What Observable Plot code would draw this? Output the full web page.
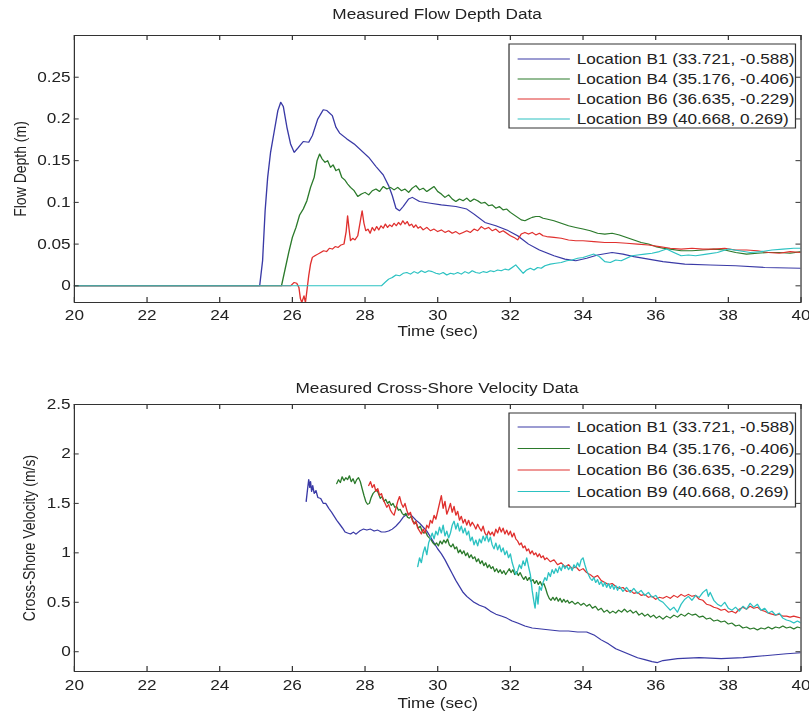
<!DOCTYPE html>
<html><head><meta charset="utf-8">
<script src="https://cdn.jsdelivr.net/npm/d3@7"></script>
<script src="https://cdn.jsdelivr.net/npm/@observablehq/plot@0.6"></script>
<style>
html,body{margin:0;padding:0;background:#fff;}
#wrap{position:relative;width:658px;height:719px;transform:scaleX(1.2295);transform-origin:0 0;font-family:"Liberation Sans",Arial,sans-serif;color:#222;overflow:visible;}
.ttl{position:absolute;left:60px;width:591px;text-align:center;font-size:14px;line-height:18px;}
.pl{position:absolute;left:0;}
#leg{position:absolute;left:0;top:0;}
</style>
</head><body>
<div id="wrap">
  <div class="ttl" style="top:5px">Measured Flow Depth Data</div>
  <div class="ttl" style="top:379px">Measured Cross-Shore Velocity Data</div>
  <div class="pl" id="p1" style="top:0px"></div>
  <div class="pl" id="p2" style="top:360px"></div>
</div>
<script>
// ---------- data ----------
const seriesNames = ["Location B1 (33.721, -0.588)","Location B4 (35.176, -0.406)","Location B6 (36.635, -0.229)","Location B9 (40.668, 0.269)"];
const seriesColors = ["#3a3aa6","#2b7a2b","#e0302e","#2cc2c2"];
const timeTicks = [20,22,24,26,28,30,32,34,36,38,40];
const depthTicks = [0,0.05,0.1,0.15,0.2,0.25];
const velTicks = [0,0.5,1,1.5,2,2.5];
const xLabel = "Time (sec)";

const depthB1 = [[20,0],[25.1,0],[25.18,0.03],[25.25,0.09],[25.32,0.13],[25.4,0.16],[25.5,0.185],[25.6,0.21],[25.68,0.22],[25.75,0.215],[25.85,0.19],[25.95,0.17],[26.05,0.16],[26.15,0.165],[26.3,0.173],[26.45,0.172],[26.55,0.18],[26.7,0.2],[26.85,0.211],[26.95,0.21],[27.1,0.204],[27.2,0.19],[27.3,0.183],[27.5,0.176],[27.7,0.17],[27.9,0.162],[28.1,0.154],[28.3,0.143],[28.5,0.133],[28.65,0.12],[28.75,0.108],[28.85,0.093],[28.95,0.09],[29.05,0.095],[29.2,0.104],[29.3,0.106],[29.5,0.101],[29.8,0.099],[30.1,0.097],[30.5,0.095],[30.8,0.092],[31.0,0.086],[31.3,0.076],[31.6,0.072],[31.9,0.067],[32.2,0.06],[32.5,0.05],[32.8,0.043],[33.2,0.036],[33.5,0.032],[33.8,0.03],[34.1,0.033],[34.4,0.037],[34.8,0.04],[35.1,0.038],[35.4,0.035],[35.8,0.032],[36.2,0.029],[36.8,0.026],[37.5,0.025],[38.2,0.024],[39.0,0.022],[40,0.021]];
const depthB4 = [[20,0],[25.7,0],[25.8,0.02],[25.9,0.04],[26.0,0.058],[26.1,0.07],[26.2,0.085],[26.3,0.092],[26.4,0.102],[26.5,0.118],[26.6,0.13],[26.68,0.15],[26.75,0.158],[26.82,0.152],[26.9,0.148],[26.97,0.15],[27.05,0.142],[27.12,0.145],[27.2,0.138],[27.28,0.14],[27.36,0.13],[27.44,0.127],[27.52,0.122],[27.6,0.118],[27.7,0.114],[27.8,0.107],[27.9,0.11],[28.0,0.112],[28.1,0.109],[28.2,0.114],[28.3,0.116],[28.4,0.113],[28.5,0.119],[28.6,0.116],[28.7,0.118],[28.8,0.115],[28.9,0.118],[29.0,0.114],[29.1,0.116],[29.2,0.112],[29.3,0.117],[29.4,0.12],[29.5,0.115],[29.6,0.117],[29.7,0.113],[29.8,0.116],[29.9,0.119],[30.0,0.113],[30.1,0.11],[30.2,0.106],[30.3,0.109],[30.4,0.104],[30.5,0.101],[30.6,0.104],[30.7,0.102],[30.8,0.105],[30.9,0.101],[31.0,0.104],[31.1,0.102],[31.2,0.099],[31.3,0.1],[31.4,0.096],[31.5,0.097],[31.6,0.093],[31.7,0.095],[31.8,0.091],[31.9,0.092],[32.0,0.088],[32.1,0.085],[32.2,0.082],[32.3,0.079],[32.4,0.078],[32.5,0.08],[32.6,0.082],[32.7,0.083],[32.8,0.083],[32.9,0.081],[33.0,0.08],[33.2,0.078],[33.4,0.075],[33.6,0.072],[33.8,0.07],[34.0,0.068],[34.2,0.066],[34.4,0.063],[34.6,0.062],[34.8,0.063],[35.0,0.061],[35.2,0.058],[35.4,0.055],[35.6,0.052],[35.8,0.05],[36.0,0.047],[36.2,0.045],[36.4,0.044],[36.7,0.042],[37.0,0.042],[37.3,0.043],[37.6,0.044],[37.9,0.043],[38.2,0.04],[38.5,0.038],[38.8,0.039],[39.1,0.04],[39.4,0.04],[39.7,0.039],[40,0.041]];
const depthB6 = [[20,0],[25.95,0],[26.05,0.004],[26.12,0.003],[26.18,-0.002],[26.22,-0.015],[26.26,-0.02],[26.32,-0.012],[26.36,-0.02],[26.4,-0.006],[26.45,0.012],[26.5,0.026],[26.55,0.034],[26.62,0.036],[26.7,0.038],[26.78,0.04],[26.86,0.042],[26.94,0.041],[27.02,0.045],[27.1,0.044],[27.18,0.047],[27.26,0.046],[27.34,0.049],[27.42,0.05],[27.48,0.065],[27.52,0.084],[27.56,0.068],[27.6,0.054],[27.66,0.057],[27.72,0.055],[27.8,0.06],[27.86,0.075],[27.92,0.09],[27.97,0.075],[28.02,0.066],[28.08,0.068],[28.14,0.063],[28.2,0.07],[28.26,0.066],[28.32,0.071],[28.38,0.067],[28.44,0.072],[28.5,0.069],[28.56,0.074],[28.62,0.07],[28.68,0.073],[28.74,0.071],[28.8,0.075],[28.86,0.072],[28.92,0.076],[28.98,0.073],[29.04,0.078],[29.1,0.074],[29.16,0.077],[29.22,0.072],[29.28,0.074],[29.34,0.07],[29.4,0.073],[29.46,0.069],[29.52,0.071],[29.6,0.067],[29.7,0.07],[29.8,0.066],[29.9,0.068],[30.0,0.065],[30.1,0.067],[30.2,0.064],[30.3,0.066],[30.4,0.063],[30.5,0.065],[30.6,0.062],[30.7,0.064],[30.8,0.066],[30.9,0.064],[31.0,0.068],[31.1,0.066],[31.2,0.071],[31.3,0.068],[31.4,0.07],[31.5,0.066],[31.6,0.068],[31.7,0.064],[31.8,0.066],[31.9,0.063],[32.0,0.06],[32.1,0.058],[32.2,0.055],[32.3,0.062],[32.4,0.064],[32.5,0.062],[32.6,0.064],[32.7,0.061],[32.8,0.063],[32.9,0.06],[33.0,0.059],[33.2,0.058],[33.4,0.057],[33.6,0.055],[33.8,0.054],[34.0,0.054],[34.3,0.053],[34.6,0.052],[34.9,0.052],[35.2,0.051],[35.5,0.05],[35.8,0.049],[36.1,0.047],[36.4,0.045],[36.7,0.044],[37.0,0.045],[37.3,0.044],[37.6,0.044],[37.9,0.045],[38.2,0.043],[38.5,0.043],[38.8,0.042],[39.1,0.04],[39.4,0.039],[39.7,0.041],[40,0.04]];
const depthB9 = [[20,0],[28.45,0],[28.55,0.004],[28.65,0.008],[28.75,0.01],[28.85,0.013],[28.95,0.012],[29.05,0.015],[29.15,0.016],[29.25,0.014],[29.35,0.017],[29.45,0.015],[29.55,0.018],[29.65,0.016],[29.75,0.018],[29.85,0.017],[29.95,0.015],[30.05,0.014],[30.15,0.016],[30.25,0.013],[30.35,0.015],[30.45,0.014],[30.55,0.016],[30.65,0.014],[30.75,0.017],[30.85,0.015],[30.95,0.018],[31.05,0.016],[31.15,0.015],[31.25,0.017],[31.35,0.016],[31.45,0.018],[31.55,0.017],[31.65,0.019],[31.75,0.018],[31.85,0.02],[31.95,0.019],[32.05,0.022],[32.15,0.025],[32.25,0.02],[32.35,0.015],[32.45,0.019],[32.55,0.021],[32.65,0.019],[32.75,0.022],[32.85,0.021],[32.95,0.024],[33.1,0.026],[33.25,0.027],[33.4,0.028],[33.55,0.03],[33.7,0.031],[33.85,0.033],[34.0,0.034],[34.15,0.036],[34.3,0.038],[34.45,0.035],[34.6,0.029],[34.75,0.028],[34.9,0.031],[35.05,0.03],[35.2,0.033],[35.35,0.036],[35.5,0.037],[35.7,0.038],[35.9,0.039],[36.1,0.041],[36.3,0.044],[36.5,0.04],[36.7,0.036],[36.9,0.037],[37.1,0.036],[37.4,0.038],[37.7,0.04],[38.0,0.044],[38.3,0.042],[38.6,0.04],[38.9,0.041],[39.2,0.043],[39.5,0.044],[39.8,0.045],[40,0.045]];

const velB1 = [[26.38,1.52],[26.42,1.65],[26.45,1.74],[26.48,1.66],[26.5,1.72],[26.53,1.62],[26.56,1.68],[26.6,1.6],[26.65,1.63],[26.7,1.56],[26.78,1.55],[26.85,1.5],[26.92,1.5],[27.0,1.45],[27.08,1.41],[27.15,1.37],[27.22,1.33],[27.3,1.29],[27.38,1.25],[27.45,1.21],[27.52,1.2],[27.6,1.19],[27.68,1.21],[27.75,1.19],[27.85,1.22],[27.95,1.24],[28.05,1.23],[28.15,1.24],[28.25,1.22],[28.35,1.23],[28.45,1.21],[28.55,1.21],[28.65,1.22],[28.75,1.24],[28.85,1.27],[28.95,1.31],[29.05,1.36],[29.15,1.39],[29.22,1.4],[29.3,1.37],[29.4,1.33],[29.5,1.3],[29.6,1.26],[29.7,1.22],[29.8,1.16],[29.9,1.1],[30.0,1.04],[30.1,0.99],[30.2,0.93],[30.3,0.86],[30.4,0.79],[30.5,0.72],[30.6,0.66],[30.7,0.6],[30.8,0.56],[30.9,0.53],[31.0,0.5],[31.15,0.47],[31.3,0.45],[31.45,0.41],[31.6,0.38],[31.75,0.36],[31.9,0.34],[32.05,0.31],[32.2,0.29],[32.4,0.26],[32.6,0.24],[32.85,0.23],[33.1,0.22],[33.35,0.21],[33.6,0.21],[33.85,0.2],[34.1,0.2],[34.3,0.17],[34.5,0.12],[34.7,0.08],[34.9,0.03],[35.1,0.0],[35.3,-0.03],[35.5,-0.06],[35.7,-0.08],[35.9,-0.1],[36.05,-0.11],[36.2,-0.09],[36.4,-0.08],[36.6,-0.07],[36.9,-0.065],[37.2,-0.06],[37.5,-0.065],[37.8,-0.07],[38.1,-0.065],[38.4,-0.06],[38.7,-0.05],[39.0,-0.04],[39.3,-0.03],[39.6,-0.02],[40,-0.01]];
const velB4 = [[27.22,1.7],[27.27,1.74],[27.32,1.71],[27.37,1.77],[27.42,1.73],[27.47,1.76],[27.52,1.74],[27.57,1.78],[27.62,1.72],[27.67,1.75],[27.72,1.7],[27.77,1.74],[27.82,1.76],[27.87,1.72],[27.92,1.65],[27.97,1.58],[28.02,1.52],[28.07,1.49],[28.12,1.5],[28.17,1.56],[28.22,1.6],[28.27,1.62],[28.32,1.64],[28.37,1.6],[28.42,1.55],[28.47,1.57],[28.52,1.52],[28.57,1.54],[28.62,1.5],[28.67,1.52],[28.72,1.48],[28.77,1.5],[28.82,1.46],[28.87,1.47],[28.92,1.43],[28.97,1.44],[29.02,1.4],[29.07,1.38],[29.12,1.4],[29.17,1.36],[29.22,1.35],[29.27,1.37],[29.32,1.32],[29.37,1.3],[29.42,1.29],[29.47,1.25],[29.52,1.27],[29.57,1.22],[29.62,1.2],[29.67,1.21],[29.72,1.17],[29.77,1.15],[29.82,1.13],[29.87,1.1],[29.92,1.08],[29.97,1.1],[30.02,1.07],[30.07,1.12],[30.12,1.09],[30.17,1.13],[30.22,1.1],[30.27,1.14],[30.32,1.08],[30.37,1.06],[30.42,1.09],[30.47,1.04],[30.52,1.06],[30.57,1.0],[30.62,1.03],[30.67,0.99],[30.72,1.02],[30.77,0.97],[30.82,1.0],[30.87,0.95],[30.92,0.98],[30.97,0.94],[31.02,0.96],[31.07,0.91],[31.12,0.94],[31.17,0.89],[31.22,0.92],[31.27,0.87],[31.32,0.9],[31.37,0.85],[31.42,0.88],[31.47,0.84],[31.52,0.86],[31.57,0.81],[31.62,0.84],[31.67,0.8],[31.72,0.83],[31.77,0.79],[31.82,0.82],[31.87,0.78],[31.92,0.81],[31.97,0.84],[32.02,0.8],[32.07,0.83],[32.12,0.78],[32.17,0.81],[32.22,0.77],[32.27,0.8],[32.32,0.76],[32.37,0.73],[32.42,0.76],[32.47,0.72],[32.52,0.75],[32.57,0.71],[32.62,0.73],[32.67,0.69],[32.72,0.72],[32.77,0.68],[32.82,0.71],[32.87,0.67],[32.92,0.69],[32.97,0.64],[33.02,0.58],[33.07,0.54],[33.12,0.52],[33.17,0.55],[33.22,0.52],[33.27,0.55],[33.32,0.51],[33.37,0.54],[33.42,0.5],[33.47,0.53],[33.52,0.5],[33.57,0.52],[33.62,0.49],[33.7,0.51],[33.78,0.48],[33.86,0.5],[33.94,0.47],[34.02,0.49],[34.1,0.46],[34.18,0.48],[34.26,0.44],[34.34,0.46],[34.42,0.42],[34.5,0.44],[34.58,0.4],[34.66,0.42],[34.74,0.39],[34.82,0.41],[34.9,0.39],[34.98,0.42],[35.06,0.4],[35.14,0.43],[35.22,0.4],[35.3,0.42],[35.38,0.39],[35.46,0.41],[35.54,0.37],[35.62,0.39],[35.7,0.36],[35.78,0.38],[35.86,0.35],[35.94,0.37],[36.02,0.34],[36.1,0.36],[36.2,0.33],[36.3,0.36],[36.4,0.34],[36.5,0.37],[36.6,0.35],[36.7,0.38],[36.8,0.36],[36.9,0.39],[37.0,0.37],[37.1,0.38],[37.2,0.35],[37.3,0.36],[37.4,0.33],[37.5,0.34],[37.6,0.31],[37.7,0.32],[37.8,0.3],[37.9,0.31],[38.0,0.28],[38.1,0.29],[38.2,0.26],[38.3,0.27],[38.4,0.24],[38.5,0.25],[38.6,0.23],[38.7,0.24],[38.8,0.22],[38.9,0.24],[39.0,0.23],[39.1,0.25],[39.2,0.23],[39.3,0.25],[39.4,0.24],[39.5,0.26],[39.6,0.24],[39.7,0.25],[39.8,0.23],[39.9,0.25],[40,0.24]];
const velB6 = [[28.1,1.68],[28.15,1.72],[28.2,1.66],[28.25,1.69],[28.3,1.62],[28.35,1.65],[28.4,1.58],[28.45,1.6],[28.5,1.54],[28.55,1.5],[28.6,1.46],[28.65,1.49],[28.7,1.43],[28.75,1.4],[28.8,1.38],[28.85,1.45],[28.9,1.52],[28.95,1.57],[29.0,1.5],[29.05,1.46],[29.1,1.5],[29.15,1.43],[29.2,1.38],[29.25,1.41],[29.3,1.33],[29.35,1.29],[29.4,1.32],[29.45,1.25],[29.5,1.22],[29.55,1.19],[29.6,1.24],[29.65,1.2],[29.7,1.28],[29.75,1.25],[29.8,1.33],[29.85,1.3],[29.9,1.38],[29.95,1.34],[30.0,1.42],[30.05,1.5],[30.1,1.58],[30.15,1.45],[30.2,1.52],[30.25,1.39],[30.3,1.44],[30.35,1.5],[30.4,1.41],[30.45,1.47],[30.5,1.38],[30.55,1.42],[30.6,1.33],[30.65,1.37],[30.7,1.3],[30.75,1.34],[30.8,1.28],[30.85,1.33],[30.9,1.27],[30.95,1.31],[31.0,1.28],[31.05,1.24],[31.1,1.29],[31.15,1.25],[31.2,1.22],[31.25,1.27],[31.3,1.2],[31.35,1.17],[31.4,1.22],[31.45,1.18],[31.5,1.21],[31.55,1.17],[31.6,1.24],[31.65,1.2],[31.7,1.26],[31.75,1.21],[31.8,1.25],[31.85,1.19],[31.9,1.23],[31.95,1.18],[32.0,1.22],[32.05,1.16],[32.1,1.2],[32.15,1.14],[32.2,1.12],[32.25,1.08],[32.3,1.1],[32.35,1.05],[32.4,1.07],[32.45,1.02],[32.5,1.04],[32.55,0.99],[32.6,1.02],[32.65,0.98],[32.7,1.0],[32.75,0.96],[32.8,0.99],[32.85,0.95],[32.9,0.97],[32.95,0.93],[33.0,0.95],[33.1,0.91],[33.2,0.93],[33.3,0.88],[33.4,0.9],[33.5,0.86],[33.6,0.88],[33.7,0.84],[33.8,0.86],[33.9,0.82],[34.0,0.84],[34.1,0.8],[34.2,0.78],[34.3,0.75],[34.4,0.77],[34.5,0.72],[34.6,0.7],[34.7,0.68],[34.8,0.69],[34.9,0.66],[35.0,0.64],[35.1,0.65],[35.2,0.61],[35.3,0.62],[35.4,0.59],[35.5,0.6],[35.6,0.57],[35.7,0.58],[35.8,0.55],[35.9,0.56],[36.0,0.53],[36.1,0.55],[36.2,0.54],[36.3,0.56],[36.4,0.54],[36.5,0.57],[36.6,0.55],[36.7,0.58],[36.8,0.56],[36.9,0.58],[37.0,0.56],[37.1,0.57],[37.2,0.53],[37.3,0.52],[37.4,0.48],[37.5,0.47],[37.6,0.45],[37.7,0.44],[37.8,0.42],[37.9,0.43],[38.0,0.4],[38.1,0.41],[38.2,0.39],[38.3,0.43],[38.4,0.45],[38.5,0.43],[38.6,0.46],[38.7,0.44],[38.8,0.45],[38.9,0.42],[39.0,0.41],[39.1,0.39],[39.2,0.38],[39.3,0.37],[39.4,0.38],[39.5,0.36],[39.6,0.36],[39.7,0.35],[39.8,0.36],[39.9,0.35],[40,0.34]];
const velB9 = [[29.45,0.86],[29.5,0.95],[29.55,0.9],[29.6,1.0],[29.65,1.06],[29.7,0.98],[29.75,1.1],[29.8,1.15],[29.85,1.2],[29.9,1.14],[29.95,1.22],[30.0,1.18],[30.05,1.26],[30.1,1.2],[30.15,1.28],[30.2,1.17],[30.25,1.22],[30.3,1.15],[30.35,1.2],[30.4,1.28],[30.45,1.32],[30.5,1.24],[30.55,1.3],[30.6,1.22],[30.65,1.27],[30.7,1.2],[30.75,1.25],[30.8,1.18],[30.85,1.22],[30.9,1.12],[30.95,1.16],[31.0,1.08],[31.05,1.13],[31.1,1.07],[31.15,1.14],[31.2,1.1],[31.25,1.17],[31.3,1.12],[31.35,1.18],[31.4,1.11],[31.45,1.16],[31.5,1.08],[31.55,1.04],[31.6,1.1],[31.65,1.03],[31.7,1.08],[31.75,1.01],[31.8,1.05],[31.85,0.98],[31.9,1.02],[31.95,0.95],[32.0,0.99],[32.05,0.9],[32.1,0.84],[32.15,0.78],[32.2,0.82],[32.25,0.88],[32.3,0.84],[32.35,0.92],[32.4,0.87],[32.45,0.95],[32.5,0.86],[32.55,0.78],[32.6,0.62],[32.65,0.5],[32.68,0.44],[32.72,0.6],[32.76,0.48],[32.8,0.66],[32.85,0.62],[32.9,0.7],[32.95,0.75],[33.0,0.72],[33.05,0.8],[33.1,0.76],[33.15,0.83],[33.2,0.79],[33.25,0.84],[33.3,0.8],[33.35,0.86],[33.4,0.82],[33.45,0.88],[33.5,0.84],[33.55,0.87],[33.6,0.83],[33.65,0.86],[33.7,0.82],[33.75,0.88],[33.8,0.85],[33.85,0.9],[33.9,0.86],[33.95,0.93],[34.0,0.95],[34.05,0.88],[34.1,0.82],[34.15,0.78],[34.2,0.74],[34.25,0.72],[34.3,0.75],[34.35,0.7],[34.4,0.73],[34.45,0.68],[34.5,0.71],[34.55,0.66],[34.6,0.7],[34.65,0.65],[34.7,0.69],[34.75,0.64],[34.8,0.68],[34.85,0.63],[34.9,0.67],[34.95,0.62],[35.0,0.66],[35.1,0.61],[35.2,0.65],[35.3,0.6],[35.4,0.64],[35.5,0.59],[35.6,0.62],[35.7,0.57],[35.8,0.6],[35.9,0.55],[36.0,0.57],[36.1,0.52],[36.2,0.5],[36.3,0.46],[36.4,0.42],[36.5,0.45],[36.6,0.4],[36.7,0.48],[36.8,0.53],[36.9,0.56],[37.0,0.52],[37.1,0.57],[37.2,0.55],[37.3,0.6],[37.4,0.63],[37.45,0.56],[37.5,0.6],[37.6,0.52],[37.7,0.48],[37.8,0.46],[37.9,0.5],[38.0,0.44],[38.1,0.42],[38.2,0.45],[38.3,0.41],[38.4,0.46],[38.5,0.43],[38.6,0.49],[38.7,0.45],[38.8,0.48],[38.9,0.42],[39.0,0.44],[39.1,0.39],[39.2,0.41],[39.3,0.37],[39.4,0.39],[39.5,0.34],[39.6,0.32],[39.7,0.31],[39.8,0.29],[39.9,0.31],[40,0.29]];

// ---------- build ----------
const FONT = '"Liberation Sans", Arial, sans-serif';
const W = 658, ML = 60, MR = 7, FW = W - ML - MR;
function rows(list) {
  return list.flatMap((arr, i) => arr.map(([t, v]) => ({t, v, s: seriesNames[i]})));
}
function makePlot({data, yDomain, yTicks, yLabel, height, mt, mb, yLabelOffset, tickDy, xLabelDy}) {
  const FH = height - mt - mb;
  return Plot.plot({
    width: W, height, marginTop: mt, marginBottom: mb, marginLeft: ML, marginRight: MR,
    style: {fontFamily: FONT, fontSize: "14px", color: "#222", background: "transparent", overflow: "visible"},
    x: {domain: [20, 40], axis: null},
    y: {domain: yDomain},
    color: {domain: seriesNames, range: seriesColors},
    marks: [
      Plot.line(data, {x: "t", y: "v", z: "s", stroke: "s", strokeWidth: 1.1, clip: true}),
      Plot.tickX(timeTicks, {x: d => d, insetTop: FH - 5, stroke: "#333"}),
      Plot.tickX(timeTicks, {x: d => d, insetBottom: FH - 5, stroke: "#333"}),
      Plot.tickY(yTicks, {y: d => d, insetRight: FW - 4, stroke: "#333"}),
      Plot.tickY(yTicks, {y: d => d, insetLeft: FW - 4, stroke: "#333"}),
      Plot.frame({stroke: "#333"}),
      Plot.text(timeTicks, {x: d => d, text: d => String(d), frameAnchor: "bottom", lineAnchor: "middle", dy: tickDy, fontSize: 14, fill: "#222"}),
      Plot.text([xLabel], {text: d => d, frameAnchor: "bottom", lineAnchor: "middle", dy: xLabelDy, fontSize: 14, fill: "#222"}),
      Plot.axisY({ticks: yTicks, tickFormat: d => String(d), tickSize: 0, tickPadding: 3, fontSize: 14,
        label: yLabel, labelAnchor: "center", labelArrow: "none", labelOffset: yLabelOffset})
    ]
  });
}
document.getElementById("p1").append(makePlot({
  data: rows([depthB1, depthB4, depthB6, depthB9]), yDomain: [-0.02, 0.3], yTicks: depthTicks,
  yLabel: "Flow Depth (m)", height: 345, mt: 35, mb: 43, yLabelOffset: 49, tickDy: 13, xLabelDy: 29
}));
document.getElementById("p2").append(makePlot({
  data: rows([velB1, velB4, velB6, velB9]), yDomain: [-0.2, 2.5], yTicks: velTicks,
  yLabel: "Cross-Shore Velocity (m/s)", height: 359, mt: 44, mb: 48, yLabelOffset: 42, tickDy: 14, xLabelDy: 32
}));

// ---------- legends (overlay) ----------
const leg = d3.select("#wrap").append("svg").attr("id", "leg").attr("width", 658).attr("height", 719)
  .style("font-family", FONT).style("font-size", "14px");
function legend(box, rowsY) {
  leg.append("rect").attr("x", box[0]).attr("y", box[1]).attr("width", box[2] - box[0]).attr("height", box[3] - box[1])
    .attr("fill", "#fff").attr("stroke", "#333");
  seriesNames.forEach((n, i) => {
    leg.append("line").attr("x1", 421).attr("x2", 463.5).attr("y1", rowsY[i]).attr("y2", rowsY[i]).attr("stroke", seriesColors[i]);
    leg.append("text").attr("x", 469).attr("y", rowsY[i]).attr("dy", "0.36em").attr("fill", "#222").text(n);
  });
}
legend([414, 44, 647, 128], [59, 79, 99, 119]);
legend([414, 413, 647, 507], [427, 448.5, 470, 491.5]);
</script>
</body></html>
